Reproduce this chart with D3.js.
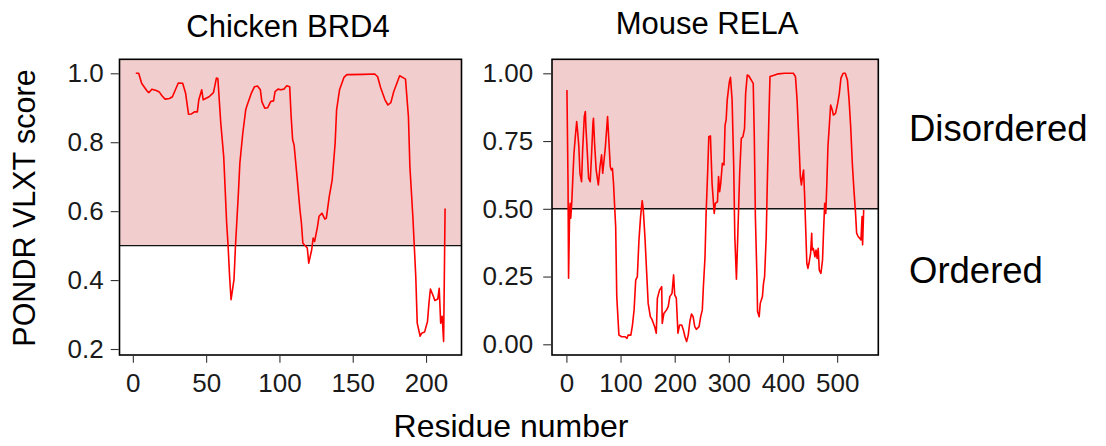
<!DOCTYPE html>
<html>
<head>
<meta charset="utf-8">
<script src="https://cdn.jsdelivr.net/npm/d3@7"></script>
<style>
  html, body { margin: 0; padding: 0; background: #fff; }
  svg text { font-family: "Liberation Sans", Arial, sans-serif; }
</style>
</head>
<body>
<div id="chart"></div>
<script>
// PONDR VLXT scores
const brd4Residue = [2, 4, 6, 8, 10, 11, 13, 16, 18, 20, 22, 25, 27, 31, 34, 36, 38, 40, 42, 44, 45, 47, 48, 52, 55, 57, 58, 60, 62, 64, 65, 66, 67, 69, 70, 72, 73, 75, 77, 78, 80, 81, 83, 85, 87, 88, 90, 92, 94, 96, 97, 99, 101, 103, 105, 107, 108, 109, 110, 112, 114, 115, 116, 119, 120, 122, 123, 124, 126, 127, 129, 131, 132, 134, 136, 138, 139, 141, 144, 146, 148, 157, 165, 167, 169, 172, 174, 176, 178, 181, 182, 184, 186, 188, 189, 191, 193, 194, 196, 197, 199, 201, 202, 203, 205, 206, 208, 209, 210, 211, 212, 213];
const brd4Score = [1.0, 1.0, 0.971, 0.959, 0.947, 0.944, 0.954, 0.95, 0.946, 0.934, 0.925, 0.927, 0.932, 0.972, 0.971, 0.942, 0.881, 0.882, 0.888, 0.888, 0.923, 0.952, 0.923, 0.932, 0.944, 0.986, 0.985, 0.855, 0.758, 0.565, 0.498, 0.411, 0.343, 0.401, 0.498, 0.652, 0.739, 0.826, 0.894, 0.908, 0.932, 0.944, 0.961, 0.963, 0.952, 0.918, 0.899, 0.9, 0.918, 0.92, 0.947, 0.954, 0.952, 0.954, 0.964, 0.961, 0.874, 0.807, 0.792, 0.7, 0.604, 0.565, 0.507, 0.493, 0.449, 0.488, 0.522, 0.512, 0.556, 0.585, 0.594, 0.577, 0.58, 0.643, 0.691, 0.797, 0.894, 0.952, 0.988, 0.996, 0.996, 0.997, 0.998, 0.99, 0.959, 0.923, 0.908, 0.915, 0.947, 0.981, 0.993, 0.988, 0.983, 0.874, 0.729, 0.585, 0.411, 0.275, 0.237, 0.246, 0.249, 0.28, 0.333, 0.374, 0.353, 0.341, 0.345, 0.376, 0.275, 0.295, 0.222, 0.608];

const relaResidue = [1, 3, 4, 6, 7, 8, 10, 12, 14, 17, 19, 21, 23, 25, 28, 30, 33, 35, 36, 39, 41, 44, 46, 49, 50, 52, 55, 59, 62, 65, 67, 69, 72, 76, 78, 81, 83, 85, 87, 91, 93, 97, 102, 108, 112, 114, 119, 122, 125, 128, 131, 134, 137, 140, 142, 145, 148, 151, 155, 158, 163, 166, 168, 172, 176, 177, 180, 185, 188, 191, 195, 198, 200, 203, 206, 209, 213, 216, 219, 222, 225, 228, 231, 234, 237, 240, 245, 248, 251, 253, 256, 258, 261, 263, 266, 269, 273, 275, 279, 281, 283, 285, 288, 291, 293, 295, 297, 301, 303, 306, 309, 311, 314, 317, 320, 323, 326, 329, 331, 334, 337, 342, 345, 347, 349, 352, 353, 356, 358, 362, 364, 366, 369, 371, 374, 376, 379, 385, 391, 403, 419, 423, 426, 429, 432, 434, 436, 438, 440, 442, 444, 446, 448, 451, 453, 454, 456, 459, 461, 463, 465, 467, 470, 473, 475, 477, 479, 481, 483, 485, 488, 491, 493, 497, 501, 504, 507, 511, 515, 519, 522, 525, 528, 531, 534, 536, 539, 542, 544, 546, 547, 549];
const relaScore = [0.938, 0.594, 0.244, 0.496, 0.52, 0.465, 0.526, 0.619, 0.705, 0.779, 0.822, 0.779, 0.729, 0.631, 0.6, 0.717, 0.84, 0.859, 0.803, 0.693, 0.613, 0.6, 0.68, 0.816, 0.834, 0.742, 0.643, 0.588, 0.656, 0.699, 0.631, 0.668, 0.729, 0.84, 0.766, 0.656, 0.643, 0.649, 0.594, 0.434, 0.176, 0.034, 0.028, 0.028, 0.022, 0.034, 0.034, 0.071, 0.127, 0.237, 0.25, 0.385, 0.471, 0.53, 0.496, 0.397, 0.274, 0.151, 0.102, 0.092, 0.065, 0.041, 0.17, 0.2, 0.213, 0.077, 0.114, 0.127, 0.139, 0.176, 0.188, 0.256, 0.182, 0.17, 0.041, 0.071, 0.071, 0.053, 0.028, 0.01, 0.034, 0.084, 0.112, 0.102, 0.065, 0.055, 0.065, 0.102, 0.127, 0.213, 0.323, 0.483, 0.643, 0.766, 0.769, 0.594, 0.483, 0.52, 0.526, 0.619, 0.563, 0.594, 0.668, 0.662, 0.809, 0.828, 0.902, 0.969, 0.985, 0.902, 0.656, 0.397, 0.24, 0.434, 0.631, 0.76, 0.766, 0.797, 0.926, 0.994, 0.99, 0.973, 0.963, 0.766, 0.471, 0.237, 0.121, 0.102, 0.151, 0.176, 0.225, 0.25, 0.397, 0.594, 0.84, 0.988, 0.99, 0.994, 0.998, 1.0, 1.0, 0.988, 0.902, 0.766, 0.619, 0.588, 0.619, 0.643, 0.545, 0.422, 0.299, 0.28, 0.299, 0.336, 0.41, 0.348, 0.354, 0.323, 0.348, 0.317, 0.354, 0.274, 0.262, 0.311, 0.422, 0.52, 0.483, 0.594, 0.729, 0.791, 0.883, 0.865, 0.846, 0.852, 0.889, 0.926, 0.982, 1.0, 1.0, 0.975, 0.902, 0.803, 0.668, 0.569, 0.483, 0.41, 0.397, 0.391, 0.385, 0.471, 0.367, 0.496];

const panelTitles = ['Chicken BRD4', 'Mouse RELA'];
const brd4XTicks = [0, 50, 100, 150, 200];
const brd4YTicks = [0.2, 0.4, 0.6, 0.8, 1.0];
const relaXTicks = [0, 100, 200, 300, 400, 500];
const relaYTicks = [0, 0.25, 0.5, 0.75, 1.0];
const threshold = 0.5;
const regionLabels = ['Disordered', 'Ordered'];

const W = 1106, H = 446;
const svg = d3.select('#chart').append('svg')
  .attr('width', W).attr('height', H);

const panels = [
  {
    title: panelTitles[0], titleX: 288, titleY: 37,
    res: brd4Residue, score: brd4Score,
    xDomain: [-9.1, 224.2], yDomain: [0.1826, 1.0406],
    left: 119.5, right: 461.5,
    xTicks: brd4XTicks, yTicks: brd4YTicks, yFmt: d3.format('.1f'), yPad: 7
  },
  {
    title: panelTitles[1], titleX: 707, titleY: 33.5,
    res: relaResidue, score: relaScore,
    xDomain: [-26.6, 576], yDomain: [-0.0395, 1.0517],
    left: 552, right: 878.3,
    xTicks: relaXTicks, yTicks: relaYTicks, yFmt: d3.format('.2f'), yPad: 10
  }
];
const plotTop = 59.3, plotBottom = 355;

panels.forEach(p => {
  const x = d3.scaleLinear().domain(p.xDomain).range([p.left, p.right]);
  const y = d3.scaleLinear().domain(p.yDomain).range([plotBottom, plotTop]);
  const g = svg.append('g');

  // disordered zone
  g.append('rect')
    .attr('x', p.left).attr('y', plotTop)
    .attr('width', p.right - p.left)
    .attr('height', y(threshold) - plotTop)
    .attr('fill', '#f1cdcd');

  g.append('line')
    .attr('x1', p.left).attr('x2', p.right)
    .attr('y1', y(threshold)).attr('y2', y(threshold))
    .attr('stroke', '#111').attr('stroke-width', 1.4);

  const pts = p.res.map((r, i) => [r, p.score[i]]);
  g.append('path')
    .datum(pts)
    .attr('fill', 'none')
    .attr('stroke', '#ff0000')
    .attr('stroke-width', 1.6)
    .attr('stroke-linejoin', 'round')
    .attr('d', d3.line().x(d => x(d[0])).y(d => y(d[1])));

  // box
  g.append('rect')
    .attr('x', p.left).attr('y', plotTop)
    .attr('width', p.right - p.left).attr('height', plotBottom - plotTop)
    .attr('fill', 'none').attr('stroke', '#000').attr('stroke-width', 1.6);

  const xa = g.append('g')
    .attr('transform', `translate(0,${plotBottom + 0.8})`)
    .call(d3.axisBottom(x).tickValues(p.xTicks).tickSize(7).tickPadding(10.5).tickFormat(d3.format('d')));
  const ya = g.append('g')
    .attr('transform', `translate(${p.left - 0.8},0)`)
    .call(d3.axisLeft(y).tickValues(p.yTicks).tickSize(8).tickPadding(p.yPad).tickFormat(p.yFmt));

  [xa, ya].forEach(a => {
    a.select('.domain').remove();
    a.selectAll('line').attr('stroke', '#333').attr('stroke-width', 1.1);
    a.selectAll('text').attr('fill', '#1a1a1a').style('font-size', '26px');
  });

  svg.append('text')
    .attr('x', p.titleX).attr('y', p.titleY)
    .attr('text-anchor', 'middle')
    .style('font-size', '31px')
    .text(p.title);
});

svg.append('text')
  .attr('x', 511).attr('y', 437)
  .attr('text-anchor', 'middle')
  .style('font-size', '32px')
  .text('Residue number');

svg.append('text')
  .attr('transform', 'translate(35,208) rotate(-90)')
  .attr('text-anchor', 'middle')
  .style('font-size', '30.5px')
  .text('PONDR VLXT score');

svg.append('text')
  .attr('x', 909).attr('y', 141)
  .style('font-size', '36.5px')
  .text(regionLabels[0]);

svg.append('text')
  .attr('x', 909).attr('y', 283)
  .style('font-size', '36.5px')
  .text(regionLabels[1]);
</script>
</body>
</html>
